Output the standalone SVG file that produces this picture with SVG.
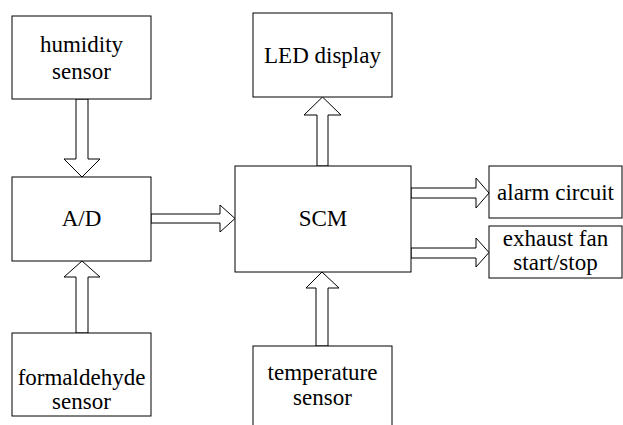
<svg xmlns="http://www.w3.org/2000/svg" width="623" height="425" viewBox="0 0 623 425">
<style>
.box{fill:#fff;stroke:#000;stroke-width:1}
.arr{fill:#fff;stroke:#000;stroke-width:1;stroke-linejoin:miter}
.t{font-family:'Liberation Serif','DejaVu Serif',serif;font-size:23px;fill:#000;text-anchor:middle}
</style>
<rect width="623" height="425" fill="#fff"/>
<g id="connectors">
<polygon class="arr" points="76,99 76,159 64,159 82,177 100,159 88,159 88,99"/>
<polygon class="arr" points="76,333 76,277 64,277 82,261 100,277 88,277 88,333"/>
<polygon class="arr" points="151,214 220,214 220,205 235,218.5 220,232 220,223 151,223"/>
<polygon class="arr" points="317,166 317,115 304,115 322.5,97 341,115 328,115 328,166"/>
<polygon class="arr" points="316,346 316,288 306,288 322,272 339,288 328,288 328,346"/>
<polygon class="arr" points="411,188 476,188 476,178 489,193 476,208 476,198 411,198"/>
<polygon class="arr" points="411,248 476,248 476,238 489,252.5 476,267 476,258 411,258"/>
</g>
<g id="humidity"><rect class="box" x="12" y="16" width="139" height="83"/><text class="t" font-family="Liberation Serif" x="81.5" y="52">humidity</text><text class="t" x="81.5" y="79">sensor</text></g>
<g id="ad"><rect class="box" x="12" y="177" width="139" height="84"/><text class="t" x="81.5" y="226">A/D</text></g>
<g id="formaldehyde"><rect class="box" x="12" y="333" width="139" height="83"/><text class="t" x="81.5" y="385">formaldehyde</text><text class="t" x="81.5" y="409">sensor</text></g>
<g id="led"><rect class="box" x="253" y="13" width="139" height="84"/><text class="t" x="322.5" y="63">LED display</text></g>
<g id="scm"><rect class="box" x="235" y="166" width="176" height="106"/><text class="t" x="323" y="226">SCM</text></g>
<g id="temperature"><rect class="box" x="253" y="346" width="139" height="90"/><text class="t" x="322.5" y="380">temperature</text><text class="t" x="322.5" y="405">sensor</text></g>
<g id="alarm"><rect class="box" x="489" y="166" width="133" height="52"/><text class="t" x="555.5" y="200">alarm circuit</text></g>
<g id="fan"><rect class="box" x="489" y="226" width="133" height="52"/><text class="t" x="555.5" y="246">exhaust fan</text><text class="t" x="555.5" y="270">start/stop</text></g>
</svg>
